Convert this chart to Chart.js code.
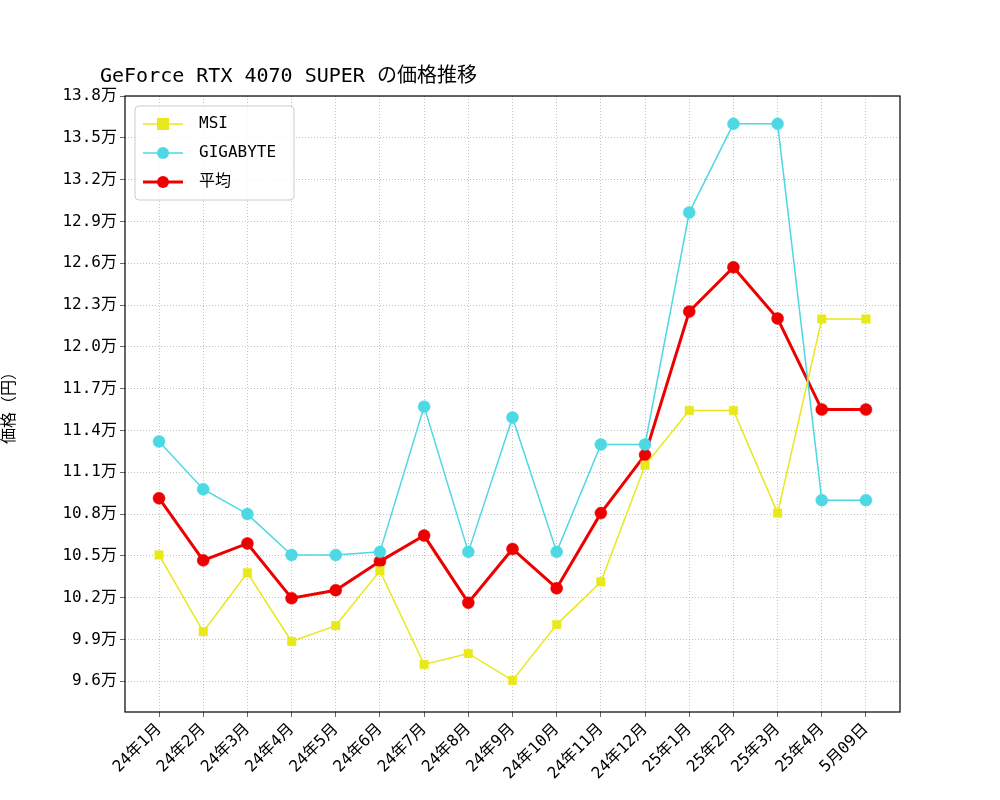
<!DOCTYPE html>
<html><head><meta charset="utf-8">
<script src="https://cdn.jsdelivr.net/npm/chart.js@4"></script>
<style>body{margin:0;background:#fff}#wrap{width:1000px;height:800px}</style>
</head><body><div id="wrap"><canvas id="c"></canvas></div>
<script>
const labels = ['24年1月','24年2月','24年3月','24年4月','24年5月','24年6月','24年7月','24年8月','24年9月','24年10月','24年11月','24年12月','25年1月','25年2月','25年3月','25年4月','5月09日'];
const msi = [105070,99570,103790,98860,100000,103930,97210,98000,96070,100070,103140,111500,115430,115430,108070,122000,122000];
const gigabyte = [113210,109790,108000,105070,105070,105290,115710,105290,114930,105290,113000,113000,129640,136000,136000,109000,109000];
const average = msi.map((v, i) => (v + gigabyte[i]) / 2);
const tickValues = [];
for (let v = 96000; v <= 138000; v += 3000) tickValues.push(v);
const pts = arr => arr.map((v, i) => ({x: i, y: v}));

const FONT = '"DejaVu Sans Mono", "Noto Sans CJK JP", monospace';
Chart.defaults.font.family = FONT;
Chart.defaults.color = '#000';

// title, frame and legend box
const extras = {
  id: 'extras',
  afterDraw(chart) {
    const ctx = chart.ctx, a = chart.chartArea;
    ctx.save();
    ctx.strokeStyle = '#000'; ctx.lineWidth = 1.2;
    ctx.strokeRect(a.left, a.top, a.right - a.left, a.bottom - a.top);
    ctx.font = '20px ' + FONT;
    ctx.fillStyle = '#000';
    ctx.textBaseline = 'alphabetic';
    ctx.fillText('GeForce RTX 4070 SUPER の価格推移', 100, 82);
    const x0 = a.left + 10, y0 = a.top + 10;
    ctx.fillStyle = 'rgba(255,255,255,0.8)';
    ctx.strokeStyle = '#ccc';
    ctx.lineWidth = 1;
    ctx.beginPath(); ctx.roundRect(x0, y0, 159, 94, 4); ctx.fill(); ctx.stroke();
    const items = [
      {t:'MSI', c:'#e8e81a', w:1.5, s:'rect'},
      {t:'GIGABYTE', c:'#4dd8e3', w:1.5, s:'circle'},
      {t:'平均', c:'#ee0000', w:3, s:'circle'}
    ];
    ctx.font = '16px ' + FONT;
    ctx.textBaseline = 'middle';
    items.forEach((it, i) => {
      const y = y0 + 18 + i * 29;
      ctx.strokeStyle = it.c; ctx.lineWidth = it.w;
      ctx.beginPath(); ctx.moveTo(x0 + 8, y); ctx.lineTo(x0 + 48, y); ctx.stroke();
      ctx.fillStyle = it.c;
      if (it.s === 'rect') ctx.fillRect(x0 + 22, y - 6, 12, 12);
      else { ctx.beginPath(); ctx.arc(x0 + 28, y, 6, 0, Math.PI * 2); ctx.fill(); }
      ctx.fillStyle = '#000';
      ctx.fillText(it.t, x0 + 64, y);
    });
    ctx.restore();
  }
};

new Chart(document.getElementById('c'), {
  type: 'line',
  data: {
    datasets: [
      {label:'MSI', data: pts(msi), borderColor:'#e8e81a', backgroundColor:'#e8e81a', borderWidth:1.5, pointStyle:'rect', pointRadius:6, pointBorderWidth:0.5},
      {label:'GIGABYTE', data: pts(gigabyte), borderColor:'#4dd8e3', backgroundColor:'#4dd8e3', borderWidth:1.5, pointRadius:6, pointBorderWidth:0.5},
      {label:'平均', data: pts(average), borderColor:'#ee0000', backgroundColor:'#ee0000', borderWidth:3, pointRadius:6, pointBorderWidth:0.5}
    ]
  },
  options: {
    responsive: true, maintainAspectRatio: false, animation: false,
    layout: {padding: {top: 96, right: 100, left: 0, bottom: 0}},
    plugins: {legend: {display:false}, title: {display:false}, tooltip: {enabled:false}},
    scales: {
      x: {
        type: 'linear', min: -0.77, max: 16.77,
        afterBuildTicks(s) { s.ticks = labels.map((l, i) => ({value: i})); },
        grid: {color:'#999', lineWidth:0.6, tickColor:'#000', tickLength:5},
        border: {display:false, dash:[1,2]},
        ticks: {font:{size:16}, maxRotation:45, minRotation:45, autoSkip:false, callback: v => labels[v]},
        afterFit(s) { s.height = 88; }
      },
      y: {
        min: 93800, max: 138000,
        afterBuildTicks(s) { s.ticks = tickValues.map(v => ({value: v})); },
        grid: {color:'#999', lineWidth:0.6, tickColor:'#000', tickLength:5},
        border: {display:false, dash:[1,2]},
        ticks: {font:{size:16}, callback: v => (v / 10000).toFixed(1) + '万'},
        title: {display:true, text:'価格（円）', font:{size:16}, padding:{top:0,bottom:2}},
        afterFit(s) { s.width = 125; }
      }
    }
  },
  plugins: [extras]
});
</script></body></html>
